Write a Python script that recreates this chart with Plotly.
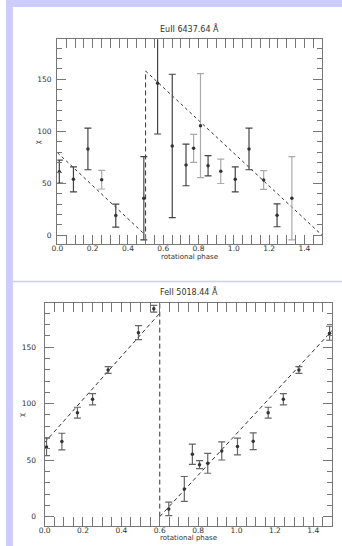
import plotly.graph_objects as go

W, H = 342, 546

# ---------------- data: EuII 6437.64 Å ----------------
eu_phase = [0.011, 0.091, 0.173, 0.251, 0.331, 0.490, 0.568, 0.651, 0.729, 0.772,
            0.811, 0.854, 0.926, 1.008, 1.086, 1.169, 1.245, 1.329]
eu_value = [61.2, 53.8, 83.0, 53.5, 18.9, 35.6, 146.2, 85.9, 67.6, 83.6,
            105.4, 66.9, 61.5, 53.8, 83.0, 53.2, 19.2, 35.6]
eu_error = [11.0, 12.0, 20.0, 9.0, 11.0, 40.0, 48.8, 69.0, 20.0, 13.5,
            50.0, 9.7, 11.7, 12.0, 20.0, 9.0, 11.0, 40.0]
eu_group = ["a", "a", "a", "b", "a", "a", "a", "a", "a", "b",
            "b", "a", "b", "a", "a", "b", "a", "b"]
eu_fit_phase = [0.0, 0.5, None, 0.5, 1.5]
eu_fit_value = [79.5, 0.0, None, 158.0, 0.0]
eu_jump_phase = [0.5, 0.5]
eu_jump_value = [-4.0, 158.0]

# ---------------- data: FeII 5018.44 Å ----------------
fe_phase = [0.010, 0.090, 0.171, 0.250, 0.331, 0.489, 0.569, 0.647, 0.728, 0.770,
            0.807, 0.850, 0.923, 1.005, 1.087, 1.165, 1.244, 1.325, 1.485]
fe_value = [61.7, 66.4, 92.0, 103.9, 129.8, 162.8, 184.0, 6.8, 24.5, 55.2,
            46.0, 47.2, 58.1, 62.0, 66.7, 92.0, 103.9, 129.8, 162.3]
fe_error = [7.8, 7.4, 4.8, 5.0, 3.0, 6.2, 3.0, 6.0, 11.0, 9.0,
            3.6, 8.8, 8.0, 7.4, 7.4, 4.8, 5.0, 3.0, 6.2]
fe_fit_phase = [0.0, 0.6, None, 0.6, 1.5]
fe_fit_value = [65.5, 180.0, None, 0.0, 165.0]
fe_jump_phase = [0.6, 0.6]
fe_jump_value = [0.0, 190.0]

titles = ["EuII 6437.64 Å", "FeII 5018.44 Å"]
x_title = "rotational phase"
y_title = "χ"

# ---------------- style ----------------
FONT = "DejaVu Sans"
TXT = "#333333"
AX = "#777777"
DARK_ERR = "#444444"
LIGHT_ERR = "#aaaaaa"
MID_ERR = "#666666"
LAV = "rgb(204,204,255)"

def px_x(x):
    return x / W

def px_y(y):
    return 1 - y / H

fig = go.Figure()

# top panel fit lines
fig.add_trace(go.Scatter(x=eu_fit_phase, y=eu_fit_value, mode="lines",
                         line=dict(color=TXT, width=1, dash="3px,3px"),
                         xaxis="x", yaxis="y", showlegend=False, hoverinfo="skip"))
fig.add_trace(go.Scatter(x=eu_jump_phase, y=eu_jump_value, mode="lines",
                         line=dict(color=TXT, width=1, dash="5px,3px"),
                         xaxis="x", yaxis="y", showlegend=False, hoverinfo="skip"))

for grp, col in (("a", DARK_ERR), ("b", LIGHT_ERR)):
    idx = [i for i, g in enumerate(eu_group) if g == grp]
    fig.add_trace(go.Scatter(
        x=[eu_phase[i] for i in idx], y=[eu_value[i] for i in idx],
        error_y=dict(type="data", array=[eu_error[i] for i in idx],
                     color=col, thickness=1.2, width=3.5),
        mode="markers", marker=dict(color="#333333", size=3.5),
        xaxis="x", yaxis="y", showlegend=False))

# bottom panel
fig.add_trace(go.Scatter(x=fe_fit_phase, y=fe_fit_value, mode="lines",
                         line=dict(color=TXT, width=1, dash="4px,3px"),
                         xaxis="x2", yaxis="y2", showlegend=False, hoverinfo="skip"))
fig.add_trace(go.Scatter(x=fe_jump_phase, y=fe_jump_value, mode="lines",
                         line=dict(color=TXT, width=1, dash="5px,3px"),
                         xaxis="x2", yaxis="y2", showlegend=False, hoverinfo="skip"))
fig.add_trace(go.Scatter(
    x=fe_phase, y=fe_value,
    error_y=dict(type="data", array=fe_error, color=MID_ERR, thickness=1.2, width=3.5),
    mode="markers", marker=dict(color="#333333", size=3.5),
    xaxis="x2", yaxis="y2", showlegend=False))

# invisible anchors so the label-only y axes get drawn
fig.add_trace(go.Scatter(x=eu_phase[:1], y=eu_value[:1], mode="markers",
                         marker=dict(opacity=0), xaxis="x", yaxis="y3",
                         showlegend=False, hoverinfo="skip"))
fig.add_trace(go.Scatter(x=fe_phase[:1], y=fe_value[:1], mode="markers",
                         marker=dict(opacity=0), xaxis="x2", yaxis="y4",
                         showlegend=False, hoverinfo="skip"))

def xaxis(domain, anchor):
    return dict(domain=domain, anchor=anchor, range=[0, 1.5],
                dtick=0.2, tick0=0, tickformat=".1f",
                ticks="inside", ticklen=9, tickwidth=1, tickcolor=AX,
                minor=dict(dtick=0.05, ticks="inside", ticklen=5, tickcolor=AX, tickwidth=1),
                showline=True, linecolor=AX, linewidth=1, mirror="allticks",
                showgrid=False, zeroline=False, ticklabelstandoff=-3,
                tickfont=dict(family=FONT, size=7.5, color=TXT))

def yaxis(domain, anchor, rng):
    return dict(domain=domain, anchor=anchor, range=rng,
                dtick=50, tick0=0, showticklabels=False,
                ticks="inside", ticklen=9, tickwidth=1, tickcolor=AX,
                minor=dict(dtick=10, ticks="inside", ticklen=5, tickcolor=AX, tickwidth=1),
                showline=True, linecolor=AX, linewidth=1, mirror="allticks",
                showgrid=False, zeroline=False)

def ylabels(over, domain, rng, pos):
    return dict(overlaying=over, anchor="free", position=pos, side="left",
                domain=domain, range=rng, dtick=50, tick0=0,
                ticks="", showline=False, showgrid=False, zeroline=False,
                tickfont=dict(family=FONT, size=7.5, color=TXT))

top_x = [px_x(52.3), px_x(321.7)]
top_y = [px_y(244.3), px_y(39.3)]
bot_x = [px_x(39.3), px_x(332.3)]
bot_y = [px_y(526.0), px_y(303.3)]
top_rng = [-8.7, 188.5]
bot_rng = [-8.3, 188.8]

ann = []
def text(x, y, s, size, angle=0):
    ann.append(dict(x=x, y=y, xref="paper", yref="paper", text=s, showarrow=False,
                    xanchor="center", yanchor="middle", textangle=angle,
                    font=dict(family=FONT, size=size, color=TXT)))

text(px_x(187.0), px_y(28.3), titles[0], 8)
text(px_x(185.8), px_y(291.7), titles[1], 8)
text(px_x(187.0), px_y(256.8), x_title, 7)
text(px_x(185.8), px_y(538.3), x_title, 7)
text(px_x(32.0), px_y(141.7), y_title, 7, -90)
text(px_x(15.5), px_y(414.7), y_title, 7, -90)

shapes = [
    dict(type="rect", xref="paper", yref="paper", x0=0, x1=px_x(7), y0=0, y1=1,
         fillcolor=LAV, line=dict(width=0), layer="below"),
    dict(type="rect", xref="paper", yref="paper", x0=0, x1=1, y0=px_y(7), y1=1,
         fillcolor=LAV, line=dict(width=0), layer="below"),
    dict(type="line", xref="paper", yref="paper", x0=px_x(7), x1=1,
         y0=px_y(281.5), y1=px_y(281.5), line=dict(color=LAV, width=1.5), layer="below"),
]

fig.update_layout(
    width=W, height=H,
    margin=dict(l=0, r=0, t=0, b=0),
    paper_bgcolor="white", plot_bgcolor="white",
    xaxis=xaxis(top_x, "y"), yaxis=yaxis(top_y, "x", top_rng),
    xaxis2=xaxis(bot_x, "y2"), yaxis2=yaxis(bot_y, "x2", bot_rng),
    yaxis3=ylabels("y", top_y, top_rng, px_x(46.3)),
    yaxis4=ylabels("y2", bot_y, bot_rng, px_x(30.5)),
    annotations=ann, shapes=shapes, showlegend=False,
)

fig.write_html(
    "out.html",
    config={"displayModeBar": False},
    post_script="document.body.style.margin='0';document.body.style.padding='0';"
                "document.body.style.overflow='hidden';",
)
